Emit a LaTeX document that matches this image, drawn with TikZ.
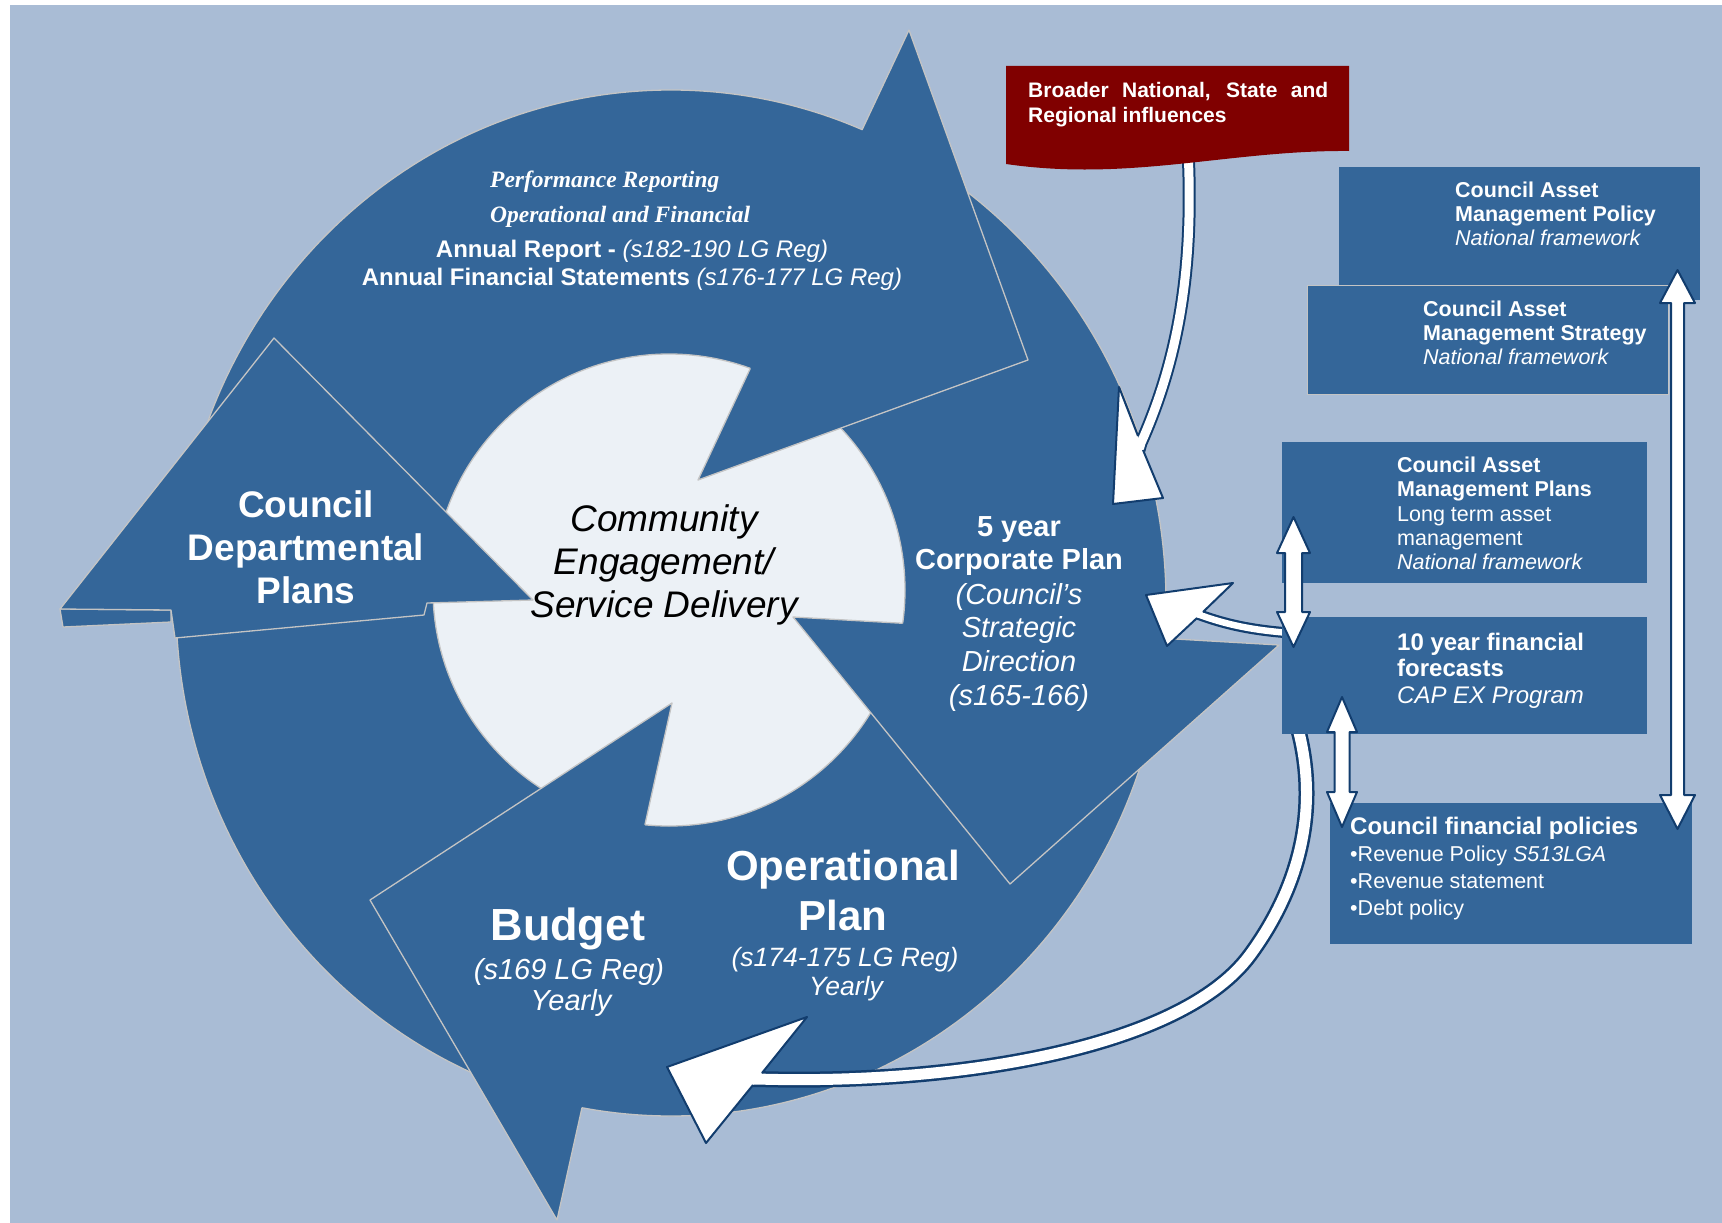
\documentclass[tikz,border=0pt]{standalone}
\usepackage{fontspec}
\setmainfont{Liberation Sans}
\newfontfamily\serifbi{Liberation Serif}
\newcommand\setfs[1]{\fontsize{#1}{#1}\selectfont}
\definecolor{bgc}{HTML}{A9BCD5}
\definecolor{darkc}{HTML}{346699}
\definecolor{palec}{HTML}{ECF1F6}
\definecolor{outlc}{HTML}{C4C4C4}
\definecolor{redc}{HTML}{800000}
\definecolor{navyc}{HTML}{123D6E}
\begin{document}
\begin{tikzpicture}[x=1pt,y=-1pt,
  outl/.style={draw=outlc, line width=1.3pt, line join=round},
  wt/.style={text=white, inner sep=0pt, anchor=base},
  wtl/.style={text=white, inner sep=0pt, anchor=base west},
  bk/.style={text=black, inner sep=0pt, anchor=base},
  navyline/.style={draw=navyc, line width=2pt, line join=round},
  boxnode/.style={fill=darkc, inner sep=0pt, anchor=north west},
  dbl/.style={fill=white, draw=navyc, line width=2pt, line join=round}
]
\useasboundingbox (0,0) rectangle (1722,1223);
\fill[white] (0,0) rectangle (1722,1223);
\fill[bgc] (10,5) rectangle (1722,1223);

% ring and centre
\filldraw[fill=darkc, outl] (671,603) ellipse [x radius=495pt, y radius=513pt];
\filldraw[fill=palec, outl] (669,590) circle [radius=236pt];

% arrow heads of the cycle
\filldraw[fill=darkc, outl] (60,609) -- (63,627) -- (171,622) -- (171,610) -- cycle;
\fill[darkc] (909,30) -- (1028,360) -- (698,480) -- cycle;
\fill[darkc] (1279,645) -- (1010,884) -- (793,617) -- cycle;
\fill[darkc] (557,1220) -- (370,900) -- (672,703) -- cycle;
\filldraw[fill=darkc, outl] (274,338) -- (533,600) -- (427,603) -- (424,615) -- (175,638) -- (171,610) -- (60,609) -- cycle;
\draw[outl] (862,130) -- (909,30) -- (1028,360) -- (698,480) -- (750.3,368.4);
\draw[outl] (1165,638.4) -- (1279,645) -- (1010,884) -- (793,617) -- (902.6,623.3);
\draw[outl] (582,1107.6) -- (557,1220) -- (370,900) -- (672,703) -- (644.9,824.8);

% white curved arrows
\draw[navyc, line width=13pt] (1188,150) .. controls (1194,270) and (1178,360) .. (1141,443) -- (1139,450);
\draw[white, line width=9pt] (1188,150) .. controls (1194,270) and (1178,360) .. (1141,443) -- (1139,450);
\fill[white] (1119,387) -- (1113,504) -- (1163,498) -- (1143,450) -- (1138,436) -- cycle;
\draw[navyline] (1143,450) -- (1163,498) -- (1113,504) -- (1119,387) -- (1138,436);

\draw[navyc, line width=11pt] (1290,633) .. controls (1250,630) and (1225,624) .. (1200,615) -- (1193,612);
\draw[white, line width=6.5pt] (1290,633) .. controls (1250,630) and (1225,624) .. (1200,615) -- (1193,612);
\fill[white] (1146,595) -- (1233,583) -- (1203,612) -- (1197,618) -- (1167,646) -- cycle;
\draw[navyline] (1203,612) -- (1233,583) -- (1146,595) -- (1167,646) -- (1197,618);

\draw[navyc, line width=16pt] (1297,725) .. controls (1318,800) and (1305,880) .. (1250,955) .. controls (1180,1050) and (950,1085) .. (757,1079) -- (748,1079);
\draw[white, line width=11pt] (1297,725) .. controls (1318,800) and (1305,880) .. (1250,955) .. controls (1180,1050) and (950,1085) .. (757,1079) -- (748,1079);
\fill[white] (667,1067) -- (807,1017) -- (762,1073) -- (753,1085) -- (706,1143) -- cycle;
\draw[navyline] (762,1073) -- (807,1017) -- (667,1067) -- (706,1143) -- (753,1085);

% red box
\fill[redc] (1006,66) -- (1349,66) -- (1349,151) .. controls (1230,150) and (1130,182) .. (1006,164) -- cycle;

% blue boxes
\node[boxnode, minimum width=361pt, minimum height=133pt] (b1) at (1339,167) {};
\node[boxnode, draw=outlc, line width=1.3pt, minimum width=361pt, minimum height=109pt] (b2) at (1307,285) {};
\node[boxnode, minimum width=365pt, minimum height=141pt] (b3) at (1282,442) {};
\node[boxnode, minimum width=365pt, minimum height=117pt] (b4) at (1282,617) {};
\node[boxnode, minimum width=362pt, minimum height=141pt] (b5) at (1330,803) {};

% double arrows
\draw[dbl] (1293.5,517) -- (1310,553) -- (1302,553) -- (1302,612) -- (1310,612) -- (1293.5,647) -- (1277,612) -- (1285,612) -- (1285,553) -- (1277,553) -- cycle;
\draw[dbl] (1342,697) -- (1357,732) -- (1349.5,732) -- (1349.5,792) -- (1357,792) -- (1342,827) -- (1327,792) -- (1334.5,792) -- (1334.5,732) -- (1327,732) -- cycle;
\draw[dbl] (1677.5,270) -- (1695,303) -- (1684,303) -- (1684,795) -- (1695,795) -- (1677.5,829) -- (1660,795) -- (1671,795) -- (1671,303) -- (1660,303) -- cycle;

% texts in the cycle
\node[wtl, font={\serifbi\bfseries\itshape\setfs{23.5}}] (pr1) at (490,187) {Performance Reporting};
\node[wtl, font={\serifbi\bfseries\itshape\setfs{23.5}}] (pr2) at (490,222) {Operational and Financial};
\node[wt, font={\setfs{24}}] (ar) at (632,257) {\textbf{Annual Report -} \textit{(s182-190 LG Reg)}};
\node[wt, font={\setfs{24}}] (afs) at (632,285) {\textbf{Annual Financial Statements} \textit{(s176-177 LG Reg)}};

\node[wt, font={\bfseries\setfs{37}}] (cdp1) at (306,517) {Council};
\node[wt, font={\bfseries\setfs{37}}] (cdp2) at (306,560) {Departmental};
\node[wt, font={\bfseries\setfs{37}}] (cdp3) at (306,603) {Plans};

\node[bk, font={\itshape\setfs{37}}] (ce1) at (664,531) {Community};
\node[bk, font={\itshape\setfs{37}}] (ce2) at (664,574) {Engagement/};
\node[bk, font={\itshape\setfs{37}}] (ce3) at (664,617) {Service Delivery};

\node[wt, font={\bfseries\setfs{29}}] (cp1) at (1019,536) {5 year};
\node[wt, font={\bfseries\setfs{29}}] (cp2) at (1019,569) {Corporate Plan};
\node[wt, font={\itshape\setfs{29}}] (cp3) at (1019,604) {(Council’s};
\node[wt, font={\itshape\setfs{29}}] (cp4) at (1019,637) {Strategic};
\node[wt, font={\itshape\setfs{29}}] (cp5) at (1019,671) {Direction};
\node[wt, font={\itshape\setfs{29}}] (cp6) at (1019,705) {(s165-166)};

\node[wt, font={\bfseries\setfs{42}}] (op1) at (843,880) {Operational};
\node[wt, font={\bfseries\setfs{42}}] (op2) at (843,930) {Plan};
\node[wt, font={\itshape\setfs{26.5}}] (op3) at (845,966) {(s174-175 LG Reg)};
\node[wt, font={\itshape\setfs{26.5}}] (op4) at (846,995) {Yearly};

\node[wt, font={\bfseries\setfs{45}}] (bu1) at (568,940) {Budget};
\node[wt, font={\itshape\setfs{29}}] (bu2) at (569,979) {(s169 LG Reg)};
\node[wt, font={\itshape\setfs{29}}] (bu3) at (571,1010) {Yearly};

% red box text
\node[wtl, font={\bfseries\setfs{21}}] (rb1) at (1028,98) {\makebox[300pt][s]{Broader National, State and}};
\node[wtl, font={\bfseries\setfs{21}}] (rb2) at (1028,122) {Regional influences};

% box texts
\node[wtl, font={\bfseries\setfs{21.5}}] (t11) at (1455,197) {Council Asset};
\node[wtl, font={\bfseries\setfs{21.5}}] (t12) at (1455,221) {Management Policy};
\node[wtl, font={\itshape\setfs{21.5}}] (t13) at (1455,245) {National framework};

\node[wtl, font={\bfseries\setfs{21.5}}] (t21) at (1423,316) {Council Asset};
\node[wtl, font={\bfseries\setfs{21.5}}] (t22) at (1423,340) {Management Strategy};
\node[wtl, font={\itshape\setfs{21.5}}] (t23) at (1423,364) {National framework};

\node[wtl, font={\bfseries\setfs{21.5}}] (t31) at (1397,472) {Council Asset};
\node[wtl, font={\bfseries\setfs{21.5}}] (t32) at (1397,496.5) {Management Plans};
\node[wtl, font={\setfs{21.5}}] (t33) at (1397,521) {Long term asset};
\node[wtl, font={\setfs{21.5}}] (t34) at (1397,545) {management};
\node[wtl, font={\itshape\setfs{21.5}}] (t35) at (1397,569.5) {National framework};

\node[wtl, font={\bfseries\setfs{24}}] (t41) at (1397,650) {10 year financial};
\node[wtl, font={\bfseries\setfs{24}}] (t42) at (1397,676) {forecasts};
\node[wtl, font={\itshape\setfs{24}}] (t43) at (1397,703) {CAP EX Program};

\node[wtl, font={\bfseries\setfs{24}}] (t51) at (1350,834) {Council financial policies};
\node[wtl, font={\setfs{21.5}}] (t52) at (1350,861) {•Revenue Policy \textit{S513LGA}};
\node[wtl, font={\setfs{21.5}}] (t53) at (1350,888.5) {•Revenue statement};
\node[wtl, font={\setfs{21.5}}] (t54) at (1350,915.5) {•Debt policy};
\end{tikzpicture}
\end{document}
